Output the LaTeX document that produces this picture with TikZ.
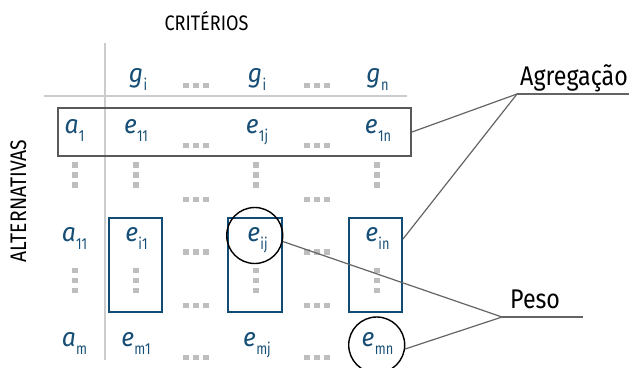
\documentclass[tikz,border=0pt]{standalone}
\usepackage{fontspec}
\setmainfont{Fira Sans}[FakeStretch=0.86]
\newfontfamily\cellfont{Fira Sans}[FakeStretch=0.95]
\newfontfamily\subfont{Fira Sans}[FakeStretch=0.8]
\definecolor{ink}{RGB}{22,78,118}
\definecolor{boxblue}{RGB}{16,76,116}
\definecolor{dotgray}{RGB}{190,190,190}
\definecolor{gridgray}{RGB}{204,204,204}
\definecolor{linkgray}{RGB}{100,100,100}
\newcommand{\cellx}[2]{{\cellfont\fontsize{26}{26}\selectfont\itshape #1}\kern0.3pt\raisebox{-8pt}{\subfont\fontsize{16}{16}\selectfont #2}}
\newcommand{\hdots}[2]{\foreach \k in {-10,0,10}{\fill[dotgray] ($(#1,#2)+(\k,0)+(-2.8,-2.8)$) rectangle ++(5.6,5.6);}}
\newcommand{\vdotsq}[2]{\foreach \k in {-10,0,10}{\fill[dotgray] ($(#1,#2)+(0,\k)+(-2.8,-2.8)$) rectangle ++(5.6,5.6);}}
\usetikzlibrary{calc}
\begin{document}
\begin{tikzpicture}[x=1pt,y=-1pt,
  cell/.style={anchor=base,inner sep=0pt,text=ink},
  lbl/.style={inner sep=0pt,text=black},
  grid/.style={draw=gridgray,line width=1.5pt},
  blue box/.style={draw=boxblue,line width=2pt,inner sep=0pt,rectangle},
  ring/.style={draw=black,line width=1.4pt,circle,minimum size=56pt,inner sep=0pt},
  link/.style={draw=linkgray,line width=1.2pt}]
\useasboundingbox (0,0) rectangle (629,367);
% titles
\node[lbl,anchor=base] (crit) at (206.5,30.7) {\fontsize{21}{21}\selectfont CRITÉRIOS};
\node[lbl,anchor=base,rotate=90] (alt) at (26,201) {\fontsize{22.5}{22.5}\selectfont ALTERNATIVAS};
% grid lines
\coordinate (vtop) at (105,43); \coordinate (vbot) at (105,360);
\coordinate (hl) at (44,96); \coordinate (hr) at (407,96);
\draw[grid] (vtop) -- (vbot);
\draw[grid] (hl) -- (hr);
% dots
\foreach \y in {85.5,145.5,199.5,252,305.5,357.5}{\hdots{196}{\y}\hdots{317}{\y}}
\foreach \x in {75,135.7,255.7,377}{\vdotsq{\x}{175}\vdotsq{\x}{280.5}}
% boxes
\node[draw=black!65,line width=2pt,rectangle,inner sep=0pt,minimum width=353pt,minimum height=48pt] (row1) at (234.5,132) {};
\node[blue box,minimum width=53pt,minimum height=94pt] (c1) at (135.5,265) {};
\node[blue box,minimum width=54pt,minimum height=94pt] (cj) at (255,265) {};
\node[blue box,minimum width=53pt,minimum height=94pt] (cn) at (375.5,265) {};
% circles
\node[ring] (cij) at (254.7,235.5) {};
\node[ring] (cmn) at (376.7,345) {};
% header
\node[cell] (g1) at (138,82) {\cellx{g}{i}};
\node[cell] (gj) at (257,82) {\cellx{g}{i}};
\node[cell] (gn) at (377.5,82) {\cellx{g}{n}};
% row 1
\node[cell] (a1) at (74.5,133.3) {\cellx{a}{1}};
\node[cell] (e11) at (136,133.3) {\cellx{e}{11}};
\node[cell] (e1j) at (257,133.3) {\cellx{e}{1j}};
\node[cell] (e1n) at (378,133.3) {\cellx{e}{1n}};
% row i
\node[cell] (ai) at (74.5,241) {\cellx{a}{11}};
\node[cell] (ei1) at (136.5,241) {\cellx{e}{i1}};
\node[cell] (eij) at (257.5,241) {\cellx{e}{ij}};
\node[cell] (ein) at (377.5,241) {\cellx{e}{in}};
% row m
\node[cell] (am) at (74.5,346) {\cellx{a}{m}};
\node[cell] (em1) at (136,346) {\cellx{e}{m1}};
\node[cell] (emj) at (257,346) {\cellx{e}{mj}};
\node[cell] (emn) at (377.5,346) {\cellx{e}{mn}};
% labels
\node[lbl,anchor=base west] (agg) at (520,85) {\fontsize{27}{27}\selectfont Agregação};
\node[lbl,anchor=base west] (peso) at (510,308) {\fontsize{27}{27}\selectfont Peso};
\coordinate (aggh) at (517,94); \coordinate (aggend) at (629,94);
\coordinate (pesoh) at (502,317); \coordinate (pesoend) at (583,317);
\draw[link] (aggh) -- (aggend);
\draw[link] (pesoh) -- (pesoend);
\draw[link] (aggh) -- (row1.east);
\draw[link] (aggh) -- ([yshift=-22pt]cn.north east);
\draw[link] (pesoh) -- (cij.-12);
\draw[link] (pesoh) -- (cmn.-8);
\end{tikzpicture}
\end{document}
